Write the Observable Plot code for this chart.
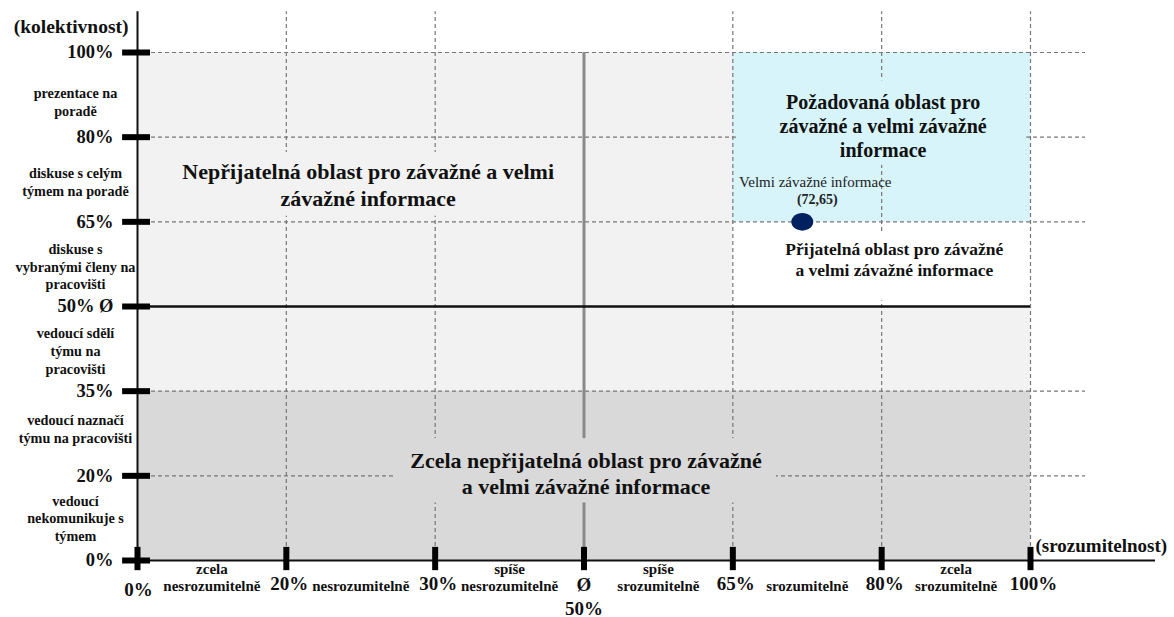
<!DOCTYPE html>
<html><head><meta charset="utf-8">
<script src="https://cdn.jsdelivr.net/npm/d3@7"></script>
<script src="https://cdn.jsdelivr.net/npm/@observablehq/plot@0.6"></script>
<style>body{margin:0;background:#fff} #chart svg{display:block}</style>
</head><body><div id="chart"></div>
<script>
// ---- data ----
const xStops = [0, 20, 30, 50, 65, 80, 100];
const yStops = [0, 20, 35, 50, 65, 80, 100];
const xTickMain = [{x: 20, t: "20%"}, {x: 30, t: "30%"}, {x: 65, t: "65%"}, {x: 80, t: "80%"}, {x: 100, t: "100%"}];
const xTickLow = [{x: 0, t: "0%"}];
const xTickMid = [{x: 50, t: "Ø\n50%"}];
const yTickLabels = ["0%", "20%", "35%", "50% Ø", "65%", "80%", "100%"];
const xBandLabels = ["zcela\nnesrozumitelně", "nesrozumitelně", "spíše\nnesrozumitelně", "spíše\nsrozumitelně", "srozumitelně", "zcela\nsrozumitelně"];
const xBandPos = [10, 25, 40, 57.5, 72.5, 90];
const yBandLabels = ["vedoucí\nnekomunikuje s\ntýmem", "vedoucí naznačí\ntýmu na pracovišti", "vedoucí sdělí\ntýmu na\npracovišti", "diskuse s\nvybranými členy na\npracovišti", "diskuse s celým\ntýmem na poradě", "prezentace na\nporadě"];
const yBandPos = [10.1, 28.4, 42.2, 57.2, 72.2, 88.4];
const xGrid = [20, 30, 65, 80, 100];
const yGrid = [20, 35, 65, 80, 100];
const zones = [
  {x1: 0, x2: 100, y1: 35, y2: 100, fill: "#f2f2f2"},
  {x1: 65, x2: 100, y1: 50, y2: 65, fill: "#ffffff"},
  {x1: 65, x2: 100, y1: 65, y2: 100, fill: "#d6f4fa"},
  {x1: 0, x2: 100, y1: 0, y2: 35, fill: "#d9d9d9"}
];
const labelBoxes = [
  {x1: 1, x2: 48, y1: 66, y2: 77.3, fill: "#f2f2f2"},
  {x1: 27.4, x2: 69.4, y1: 13.6, y2: 26.6, fill: "#d9d9d9"},
  {x1: 65.5, x2: 99.5, y1: 75, y2: 93.3, fill: "#d6f4fa"},
  {x1: 66.5, x2: 99, y1: 51, y2: 63, fill: "#ffffff"}
];
const bigLabels = [
  {x: 25.5, y: 71.7, t: "Nepřijatelná oblast pro závažné a velmi\nzávažné informace"},
  {x: 50.2, y: 20.6, t: "Zcela nepřijatelná oblast pro závažné\na velmi závažné informace"}
];
const goodLabel = [{x: 80.2, y: 82.7, t: "Požadovaná oblast pro\nzávažné a velmi závažné\ninformace"}];
const okLabel = [{x: 81.7, y: 58.4, t: "Přijatelná oblast pro závažné\na velmi závažné informace"}];
const points = [{x: 72, y: 65, name: "Velmi závažné informace", coord: "(72,65)"}];
const axisExt = {xEnd: 116.8, yTop: 109.6, gridRight: 107.4};

// ---- helpers ----
const ellipse = {draw(ctx, size) {
  const r = Math.sqrt(size / Math.PI), rx = r * 1.1, ry = r * 0.88, k = 0.5523;
  ctx.moveTo(rx, 0);
  ctx.bezierCurveTo(rx, ry * k, rx * k, ry, 0, ry);
  ctx.bezierCurveTo(-rx * k, ry, -rx, ry * k, -rx, 0);
  ctx.bezierCurveTo(-rx, -ry * k, -rx * k, -ry, 0, -ry);
  ctx.bezierCurveTo(rx * k, -ry, rx, -ry * k, rx, 0);
  ctx.closePath();
}};
const dash = {stroke: "#777", strokeWidth: 1.2, strokeDasharray: "4,3"};
const serif = "'Liberation Serif', 'Times New Roman', serif";

const chart = Plot.plot({
  width: 1174, height: 617,
  marginLeft: 137, marginRight: 144, marginTop: 52, marginBottom: 57,
  x: {type: "linear", domain: xStops, axis: null},
  y: {type: "linear", domain: yStops, axis: null},
  color: {type: "identity"},
  style: {fontFamily: serif, background: "#fff", color: "#111"},
  marks: [
    Plot.rect(zones, {x1: "x1", x2: "x2", y1: "y1", y2: "y2", fill: "fill"}),
    Plot.ruleY(yGrid, {x1: 0, x2: axisExt.gridRight, ...dash}),
    Plot.ruleX(xGrid, {y1: 0, y2: axisExt.yTop, ...dash}),
    Plot.ruleX([50], {y1: 0, y2: 100, stroke: "#8a8a8a", strokeWidth: 3}),
    Plot.ruleY([50], {x1: 0, x2: 100, stroke: "#111", strokeWidth: 2.5}),
    Plot.rect(labelBoxes, {x1: "x1", x2: "x2", y1: "y1", y2: "y2", fill: "fill"}),
    Plot.text(bigLabels, {x: "x", y: "y", text: "t", fontSize: 22, fontWeight: "bold", lineHeight: 1.2, fill: "#111"}),
    Plot.text(goodLabel, {x: "x", y: "y", text: "t", fontSize: 20, fontWeight: "bold", lineHeight: 1.2, fill: "#111"}),
    Plot.text(okLabel, {x: "x", y: "y", text: "t", fontSize: 17.5, fontWeight: "bold", lineHeight: 1.2, fill: "#111"}),
    // axes
    Plot.ruleX([0], {y1: 0, y2: axisExt.yTop, stroke: "#111", strokeWidth: 2}),
    Plot.ruleY([0], {x1: 0, x2: axisExt.xEnd, stroke: "#111", strokeWidth: 2}),
    Plot.ruleY(yStops, {x1: -2, x2: 1.75, stroke: "#000", strokeWidth: 6}),
    Plot.ruleX(xStops, {y1: -2.4, y2: 3.1, stroke: "#000", strokeWidth: 6}),
    Plot.text(yStops, {x: 0, y: d => d, text: (d, i) => yTickLabels[i], dx: -24, textAnchor: "end", fontSize: 18.5, fontWeight: "bold"}),
    Plot.text(yBandPos, {x: 0, y: d => d, text: (d, i) => yBandLabels[i], dx: -62, textAnchor: "middle", fontSize: 14.2, fontWeight: "bold", lineHeight: 1.25}),
    Plot.text(xTickMain, {x: "x", y: 0, text: "t", dx: 3, dy: 29, lineAnchor: "bottom", fontSize: 19, fontWeight: "bold"}),
    Plot.text(xTickLow, {x: "x", y: 0, text: "t", dx: 1, dy: 35, lineAnchor: "bottom", fontSize: 19, fontWeight: "bold"}),
    Plot.text(xTickMid, {x: "x", y: 0, text: "t", dy: 54, lineAnchor: "bottom", fontSize: 19, fontWeight: "bold", lineHeight: 1.25}),
    Plot.text(xBandPos, {x: d => d, y: 0, text: (d, i) => xBandLabels[i], dy: 30, lineAnchor: "bottom", fontSize: 15, fontWeight: "bold", lineHeight: 1.08}),
    Plot.text(["(kolektivnost)"], {x: 0, y: axisExt.yTop, text: d => d, dx: -9, dy: 15, textAnchor: "end", fontSize: 19.5, fontWeight: "bold"}),
    Plot.text(["(srozumitelnost)"], {x: 100, y: 0, text: d => d, dx: 5, dy: -15, textAnchor: "start", fontSize: 19, fontWeight: "bold"}),
    // point
    Plot.dot(points, {x: "x", y: "y", r: 10, symbol: ellipse, fill: "#002060", stroke: "none"}),
    Plot.text(points, {x: "x", y: "y", text: "name", dx: 13, dy: -40, fontSize: 15, fill: "#222"}),
    Plot.text(points, {x: "x", y: "y", text: "coord", dx: 15, dy: -22, fontSize: 14, fontWeight: "bold", fill: "#222"})
  ]
});
document.getElementById("chart").append(chart);
</script>
</body></html>
